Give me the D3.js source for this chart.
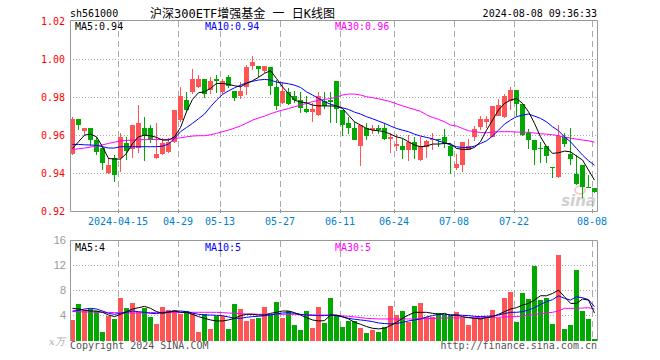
<!DOCTYPE html>
<html><head><meta charset="utf-8">
<script src="https://cdn.jsdelivr.net/npm/d3@7"></script>
<style>body{margin:0;background:#fff}svg{display:block}</style>
</head><body>
<svg id="c" width="660" height="360"></svg>
<script>
const dates = ["2024-04-01","2024-04-02","2024-04-03","2024-04-08","2024-04-09","2024-04-10","2024-04-11","2024-04-12","2024-04-15","2024-04-16",
"2024-04-17","2024-04-18","2024-04-19","2024-04-22","2024-04-23","2024-04-24","2024-04-25","2024-04-26","2024-04-29","2024-04-30",
"2024-05-06","2024-05-07","2024-05-08","2024-05-09","2024-05-10","2024-05-13","2024-05-14","2024-05-15","2024-05-16","2024-05-17",
"2024-05-20","2024-05-21","2024-05-22","2024-05-23","2024-05-24","2024-05-27","2024-05-28","2024-05-29","2024-05-30","2024-05-31",
"2024-06-03","2024-06-04","2024-06-05","2024-06-06","2024-06-07","2024-06-11","2024-06-12","2024-06-13","2024-06-14","2024-06-17",
"2024-06-18","2024-06-19","2024-06-20","2024-06-21","2024-06-24","2024-06-25","2024-06-26","2024-06-27","2024-06-28","2024-07-01",
"2024-07-02","2024-07-03","2024-07-04","2024-07-05","2024-07-08","2024-07-09","2024-07-10","2024-07-11","2024-07-12","2024-07-15",
"2024-07-16","2024-07-17","2024-07-18","2024-07-19","2024-07-22","2024-07-23","2024-07-24","2024-07-25","2024-07-26","2024-07-29",
"2024-07-30","2024-07-31","2024-08-01","2024-08-02","2024-08-05","2024-08-06","2024-08-07","2024-08-08"];

const open = [0.9502,0.9686,0.9625,0.9642,0.9576,0.9532,0.9404,0.9479,0.9479,0.9558,
0.9527,0.9532,0.9642,0.9642,0.9479,0.9502,0.9514,0.9567,0.9681,0.9786,
0.9830,0.9856,0.9899,0.9839,0.9895,0.9827,0.9909,0.9835,0.9809,0.9856,
0.9965,0.9965,0.9937,0.9958,0.9856,0.9774,0.9830,0.9807,0.9786,0.9742,
0.9725,0.9707,0.9783,0.9786,0.9886,0.9734,0.9664,0.9642,0.9546,0.9642,
0.9625,0.9642,0.9637,0.9581,0.9546,0.9544,0.9523,0.9564,0.9471,0.9537,
0.9576,0.9581,0.9590,0.9544,0.9427,0.9448,0.9523,0.9593,0.9642,0.9669,
0.9593,0.9702,0.9695,0.9786,0.9842,0.9765,0.9611,0.9576,0.9534,0.9544,
0.9432,0.9383,0.9593,0.9502,0.9400,0.9444,0.9330,0.9325];
const close = [0.9688,0.9656,0.9642,0.9579,0.9514,0.9453,0.9444,0.9392,0.9590,0.9514,
0.9655,0.9664,0.9602,0.9579,0.9502,0.9558,0.9567,0.9734,0.9807,0.9734,
0.9899,0.9899,0.9821,0.9886,0.9885,0.9886,0.9862,0.9800,0.9835,0.9962,
0.9986,0.9949,0.9965,0.9856,0.9757,0.9835,0.9765,0.9786,0.9746,0.9725,
0.9742,0.9807,0.9757,0.9778,0.9737,0.9655,0.9637,0.9581,0.9655,0.9602,
0.9637,0.9632,0.9581,0.9593,0.9555,0.9523,0.9564,0.9523,0.9544,0.9571,
0.9581,0.9576,0.9558,0.9493,0.9449,0.9567,0.9546,0.9634,0.9686,0.9686,
0.9755,0.9760,0.9807,0.9842,0.9769,0.9602,0.9576,0.9523,0.9530,0.9492,
0.9427,0.9597,0.9555,0.9474,0.9348,0.9330,0.9327,0.9304];
const high = [0.9699,0.9686,0.9642,0.9642,0.9593,0.9541,0.9483,0.9497,0.9611,0.9593,
0.9655,0.9760,0.9695,0.9655,0.9664,0.9585,0.9585,0.9734,0.9856,0.9830,
0.9949,0.9921,0.9899,0.9909,0.9918,0.9900,0.9921,0.9835,0.9883,0.9970,
1.0018,0.9965,0.9965,0.9958,0.9892,0.9883,0.9848,0.9835,0.9830,0.9807,
0.9769,0.9827,0.9830,0.9830,0.9886,0.9734,0.9699,0.9672,0.9655,0.9664,
0.9655,0.9655,0.9664,0.9614,0.9606,0.9581,0.9602,0.9593,0.9590,0.9576,
0.9611,0.9581,0.9634,0.9555,0.9502,0.9567,0.9579,0.9651,0.9702,0.9702,
0.9755,0.9790,0.9821,0.9856,0.9842,0.9765,0.9632,0.9576,0.9567,0.9544,
0.9432,0.9655,0.9611,0.9642,0.9497,0.9444,0.9392,0.9325];
const low = [0.9497,0.9628,0.9602,0.9544,0.9497,0.9418,0.9400,0.9357,0.9409,0.9471,
0.9479,0.9506,0.9467,0.9558,0.9474,0.9497,0.9506,0.9558,0.9672,0.9725,
0.9821,0.9848,0.9800,0.9821,0.9825,0.9821,0.9848,0.9783,0.9792,0.9813,
0.9944,0.9909,0.9927,0.9813,0.9734,0.9765,0.9760,0.9769,0.9720,0.9716,
0.9672,0.9702,0.9742,0.9664,0.9664,0.9599,0.9607,0.9576,0.9439,0.9576,
0.9607,0.9607,0.9576,0.9509,0.9520,0.9478,0.9467,0.9474,0.9467,0.9479,
0.9523,0.9541,0.9532,0.9400,0.9421,0.9409,0.9523,0.9572,0.9628,0.9642,
0.9590,0.9702,0.9690,0.9734,0.9702,0.9597,0.9527,0.9444,0.9453,0.9457,
0.9374,0.9378,0.9537,0.9444,0.9339,0.9269,0.9327,0.9299];

const ma5 = [0.9532,0.9567,0.9602,0.9607,0.9593,0.9541,0.9479,0.9476,0.9476,0.9506,
0.9558,0.9593,0.9602,0.9599,0.9590,0.9576,0.9576,0.9593,0.9642,0.9725,
0.9790,0.9825,0.9830,0.9848,0.9874,0.9874,0.9869,0.9862,0.9856,0.9874,
0.9888,0.9906,0.9927,0.9941,0.9900,0.9856,0.9821,0.9786,0.9776,0.9772,
0.9760,0.9756,0.9756,0.9755,0.9755,0.9742,0.9707,0.9672,0.9655,0.9637,
0.9628,0.9625,0.9620,0.9607,0.9593,0.9585,0.9567,0.9550,0.9541,0.9544,
0.9555,0.9555,0.9558,0.9558,0.9532,0.9527,0.9527,0.9537,0.9567,0.9628,
0.9681,0.9734,0.9769,0.9786,0.9795,0.9769,0.9725,0.9664,0.9593,0.9541,
0.9506,0.9509,0.9518,0.9514,0.9492,0.9471,0.9418,0.9365];
const ma10 = [0.9553,0.9553,0.9551,0.9550,0.9548,0.9541,0.9534,0.9534,0.9541,0.9541,
0.9541,0.9541,0.9541,0.9541,0.9541,0.9544,0.9555,0.9585,0.9620,0.9642,
0.9664,0.9688,0.9713,0.9751,0.9786,0.9816,0.9835,0.9851,0.9865,0.9877,
0.9885,0.9892,0.9895,0.9892,0.9881,0.9877,0.9872,0.9865,0.9853,0.9830,
0.9813,0.9795,0.9778,0.9765,0.9755,0.9746,0.9737,0.9723,0.9713,0.9699,
0.9688,0.9676,0.9664,0.9650,0.9637,0.9628,0.9620,0.9607,0.9597,0.9590,
0.9583,0.9571,0.9562,0.9550,0.9541,0.9537,0.9537,0.9544,0.9558,0.9572,
0.9597,0.9628,0.9660,0.9681,0.9699,0.9707,0.9713,0.9702,0.9690,0.9672,
0.9646,0.9625,0.9593,0.9567,0.9532,0.9497,0.9467,0.9444];
const ma30 = [0.9527,0.9530,0.9534,0.9539,0.9544,0.9551,0.9558,0.9565,0.9571,0.9574,
0.9576,0.9578,0.9578,0.9579,0.9579,0.9579,0.9579,0.9583,0.9588,0.9593,
0.9597,0.9599,0.9599,0.9604,0.9611,0.9620,0.9628,0.9639,0.9650,0.9665,
0.9681,0.9692,0.9702,0.9714,0.9725,0.9734,0.9742,0.9751,0.9760,0.9769,
0.9778,0.9785,0.9790,0.9795,0.9800,0.9813,0.9818,0.9818,0.9813,0.9804,
0.9799,0.9793,0.9786,0.9778,0.9767,0.9756,0.9746,0.9737,0.9727,0.9709,
0.9695,0.9685,0.9672,0.9655,0.9650,0.9637,0.9625,0.9620,0.9616,0.9614,
0.9618,0.9620,0.9620,0.9620,0.9618,0.9618,0.9616,0.9613,0.9609,0.9607,
0.9604,0.9599,0.9592,0.9586,0.9581,0.9576,0.9572,0.9565];

const volume = [3.29,5.84,4.88,5.04,4.77,1.38,3.98,3.45,6.84,5.20,
6.00,4.51,5.20,3.77,2.65,5.36,4.93,4.83,4.19,4.72,
4.35,1.38,4.19,1.86,3.98,3.93,1.86,5.84,5.04,3.13,
3.40,3.55,5.36,4.19,6.15,3.61,4.77,2.49,1.70,4.72,
2.02,5.36,2.86,6.79,4.08,2.23,3.13,3.13,2.02,1.27,
1.70,1.43,2.18,5.57,4.08,4.72,3.02,5.57,6.00,3.82,
3.82,4.40,4.08,3.98,4.56,3.55,2.49,3.55,3.55,3.55,
4.88,3.55,6.84,7.69,2.97,7.59,6.68,11.94,6.42,6.84,
2.65,13.63,1.86,2.49,11.25,4.72,3.45,0.27];
const volMa5 = [5.15,5.04,4.83,4.72,4.72,4.51,4.08,3.82,4.19,4.62,
5.04,5.25,5.46,5.15,4.62,4.35,4.51,4.72,4.51,4.51,
4.19,3.82,3.55,3.29,3.13,3.13,3.29,3.55,3.98,4.19,
4.19,4.08,4.08,4.35,4.51,4.72,4.72,4.46,4.08,3.66,
3.29,3.13,3.18,4.08,4.08,3.82,3.45,2.92,2.60,2.23,
1.96,1.86,1.96,2.39,2.92,3.55,4.08,4.51,4.51,4.51,
4.35,4.19,4.35,3.98,4.08,3.82,3.66,3.55,3.45,3.66,
3.82,4.19,4.62,5.04,5.25,5.68,5.94,6.47,7.16,7.16,
7.53,8.06,7.00,5.94,5.94,6.63,6.47,4.40];
const volMa10 = [4.72,4.83,5.04,5.15,5.04,4.72,4.35,4.19,4.35,4.51,
4.72,4.62,4.51,4.35,4.30,4.46,4.62,4.72,4.72,4.62,
4.40,4.19,4.08,4.08,4.03,3.98,3.77,3.55,3.55,3.71,
3.82,3.87,3.98,4.08,4.24,4.40,4.46,4.35,4.19,4.08,
4.03,3.98,3.98,4.08,3.98,3.77,3.55,3.40,3.29,3.18,
3.02,2.81,2.71,2.65,2.71,2.92,3.13,3.29,3.45,3.77,
3.98,4.19,4.19,4.14,4.08,4.03,3.98,3.87,3.82,3.87,
3.93,4.08,4.30,4.51,4.51,4.62,4.88,5.25,5.78,6.21,
6.53,7.16,6.74,6.47,7.00,6.84,6.53,5.41];
const volMa30 = [4.62,4.62,4.56,4.56,4.51,4.51,4.51,4.46,4.46,4.40,
4.40,4.40,4.46,4.46,4.51,4.51,4.51,4.51,4.51,4.51,
4.51,4.51,4.51,4.51,4.51,4.46,4.40,4.35,4.30,4.24,
4.24,4.19,4.19,4.19,4.19,4.19,4.19,4.19,4.14,4.14,
4.08,4.08,4.08,4.03,3.98,3.93,3.87,3.77,3.66,3.55,
3.50,3.45,3.45,3.45,3.45,3.45,3.45,3.45,3.50,3.50,
3.55,3.55,3.61,3.61,3.61,3.66,3.66,3.66,3.66,3.66,
3.71,3.71,3.77,3.82,3.82,3.93,4.03,4.19,4.30,4.40,
4.51,4.72,5.15,5.15,5.15,5.20,5.25,5.04];

const priceTicks = [1.02, 1.00, 0.98, 0.96, 0.94, 0.92];
const volTicks = [16, 12, 8, 4];
const dateTicks = ["2024-04-15","2024-04-29","2024-05-13","2024-05-27","2024-06-11","2024-06-24","2024-07-08","2024-07-22","2024-08-08"];
const dateTickLabels = ["2024-04-15","04-29","05-13","05-27","06-11","06-24","07-08","07-22","08-08"];
const maLabels = ["MA5:0.94","MA10:0.94","MA30:0.96"];
const volMaLabels = ["MA5:4","MA10:5","MA30:5"];

const RED = "#ff5555", GREEN = "#00a800";
const MONO = "'DejaVu Sans Mono', 'Noto Sans CJK SC', monospace";
const L = 70, R = 598;
const svg = d3.select("#c");
svg.append("rect").attr("width",660).attr("height",360).attr("fill","#fff");

const x = d3.scaleBand().domain(dates).range([L, R]).padding(0);
const bw = x.bandwidth() - 1;
const y = d3.scaleLinear().domain([0.92, 1.02]).range([211.5, 21.5]);
const yv = d3.scaleLinear().domain([0, 16]).range([340.5, 240.5]);
const cx = d => x(d) + bw / 2;

// ---------- header text ----------
svg.append("text").attr("x", 70).attr("y", 17).attr("font-family", MONO).attr("font-size", 10)
  .attr("fill", "#000").text("sh561000");
svg.append("text").attr("x", 150).attr("y", 17.5).attr("font-family", MONO).attr("font-size", 12)
  .attr("fill", "#000").text("沪深300ETF增强基金 一 日K线图");
svg.append("text").attr("x", 597).attr("y", 17).attr("text-anchor", "end").attr("font-family", MONO)
  .attr("font-size", 10).attr("fill", "#000").text("2024-08-08 09:36:33");

// ---------- main panel grid ----------
const gMain = svg.append("g");
gMain.selectAll("line.h").data(priceTicks.filter(v => v < 1.015 && v > 0.925)).join("line")
  .attr("x1", L).attr("x2", 597).attr("y1", d => y(d)).attr("y2", d => y(d))
  .attr("stroke", "#aaa").attr("stroke-dasharray", "1,2");
gMain.selectAll("line.v").data(dateTicks).join("line")
  .attr("x1", d => x(d) + 0.5).attr("x2", d => x(d) + 0.5).attr("y1", 21).attr("y2", 211)
  .attr("stroke", "#aaa").attr("stroke-dasharray", "6,4");
gMain.selectAll("text.p").data(priceTicks).join("text")
  .attr("x", 65).attr("y", d => y(d) + 3.5).attr("text-anchor", "end")
  .attr("font-family", MONO).attr("font-size", 10).attr("fill", "#ff0000")
  .text(d => d.toFixed(2));
// ticks on bottom border
gMain.selectAll("line.t").data(dateTicks).join("line")
  .attr("x1", d => x(d) + 0.5).attr("x2", d => x(d) + 0.5).attr("y1", 209).attr("y2", 213)
  .attr("stroke", "#999");
gMain.selectAll("text.d").data(dateTicks).join("text")
  .attr("x", d => x(d)).attr("y", 224.5).attr("text-anchor", "middle")
  .attr("font-family", MONO).attr("font-size", 10).attr("fill", "#0080cc")
  .text((d, i) => dateTickLabels[i]);

// sina watermark
const wm = svg.append("g").attr("opacity", 0.55);
wm.append("ellipse").attr("cx", 580).attr("cy", 190).attr("rx", 5).attr("ry", 4)
  .attr("fill", "none").attr("stroke", "#f0a0a0").attr("stroke-width", 2);
wm.append("text").attr("x", 596).attr("y", 206).attr("text-anchor", "end")
  .attr("font-family", "'DejaVu Sans', sans-serif").attr("font-weight", "bold").attr("font-style", "italic")
  .attr("font-size", 15).attr("fill", "#aaa").text("sina");

// ---------- candles ----------
const idx = d3.range(dates.length);
const clipM = svg.append("clipPath").attr("id", "cm").append("rect")
  .attr("x", L).attr("y", 21).attr("width", 527).attr("height", 190);
const gC = svg.append("g").attr("clip-path", "url(#cm)");
gC.selectAll("line.w").data(idx).join("line")
  .attr("x1", i => cx(dates[i])).attr("x2", i => cx(dates[i]))
  .attr("y1", i => Math.round(y(high[i]))).attr("y2", i => Math.round(y(low[i])))
  .attr("stroke", i => close[i] >= open[i] ? RED : GREEN).attr("stroke-width", 1);
gC.selectAll("rect.b").data(idx).join("rect")
  .attr("x", i => x(dates[i]))
  .attr("width", bw)
  .attr("y", i => Math.round(y(Math.max(open[i], close[i]))))
  .attr("height", i => Math.max(1, Math.round(Math.abs(y(open[i]) - y(close[i])))))
  .attr("fill", i => close[i] >= open[i] ? RED : GREEN);

const lineP = d3.line().x((d, i) => cx(dates[i])).y(d => y(d));
[[ma30, "#ff00ff"], [ma10, "#0000ff"], [ma5, "#000000"]].forEach(([arr, c]) => {
  gC.append("path").attr("d", lineP(arr)).attr("fill", "none").attr("stroke", c).attr("stroke-width", 1);
});

// frame main
svg.append("path").attr("d", `M${L+0.5},20.5H597.5V211.5H${L+0.5}Z`).attr("fill", "none").attr("stroke", "#999");

// MA labels
const maCols = ["#000", "#0000ff", "#ff00ff"], maX = [75, 205, 335];
svg.selectAll("text.ma").data(maLabels).join("text")
  .attr("x", (d, i) => maX[i]).attr("y", 29.5).attr("font-family", MONO).attr("font-size", 10)
  .attr("fill", (d, i) => maCols[i]).text(d => d);

// ---------- volume panel ----------
const gV = svg.append("g");
gV.selectAll("line.h").data(volTicks.filter(v => v < 16)).join("line")
  .attr("x1", L).attr("x2", 597).attr("y1", d => yv(d)).attr("y2", d => yv(d))
  .attr("stroke", "#aaa").attr("stroke-dasharray", "1,2");
gV.selectAll("line.v").data(dateTicks).join("line")
  .attr("x1", d => x(d) + 0.5).attr("x2", d => x(d) + 0.5).attr("y1", 241).attr("y2", 341)
  .attr("stroke", "#aaa").attr("stroke-dasharray", "6,4");
gV.selectAll("text.v").data(volTicks).join("text")
  .attr("x", 66).attr("y", d => yv(d) + 3.5).attr("text-anchor", "end")
  .attr("font-family", "'Liberation Sans', Arial, sans-serif").attr("font-size", 11).attr("fill", "#999")
  .text(d => d);
gV.append("text").attr("x", 49).attr("y", 345).attr("font-family", "'DejaVu Serif', serif")
  .attr("font-style", "italic").attr("font-size", 10).attr("fill", "#aaa").text("x万");

gV.selectAll("rect.vb").data(idx).join("rect")
  .attr("x", i => x(dates[i])).attr("width", bw)
  .attr("y", i => Math.round(yv(volume[i])))
  .attr("height", i => 341 - Math.round(yv(volume[i])))
  .attr("fill", i => close[i] >= open[i] ? RED : GREEN);

const lineV = d3.line().x((d, i) => cx(dates[i])).y(d => yv(d));
[[volMa30, "#ff00ff"], [volMa10, "#0000ff"], [volMa5, "#000000"]].forEach(([arr, c]) => {
  gV.append("path").attr("d", lineV(arr)).attr("fill", "none").attr("stroke", c).attr("stroke-width", 1);
});
svg.append("path").attr("d", `M${L+0.5},341V240.5H597.5V341`).attr("fill", "none").attr("stroke", "#999");

svg.selectAll("text.vma").data(volMaLabels).join("text")
  .attr("x", (d, i) => maX[i]).attr("y", 250.5).attr("font-family", MONO).attr("font-size", 10)
  .attr("fill", (d, i) => maCols[i]).text(d => d);

// footer
svg.append("text").attr("x", 70).attr("y", 349).attr("font-family", MONO).attr("font-size", 10)
  .attr("fill", "#555").text("Copyright 2024 SINA.COM");
svg.append("text").attr("x", 597).attr("y", 349).attr("text-anchor", "end").attr("font-family", MONO)
  .attr("font-size", 10).attr("fill", "#555").text("http://finance.sina.com.cn");
</script>
</body></html>
